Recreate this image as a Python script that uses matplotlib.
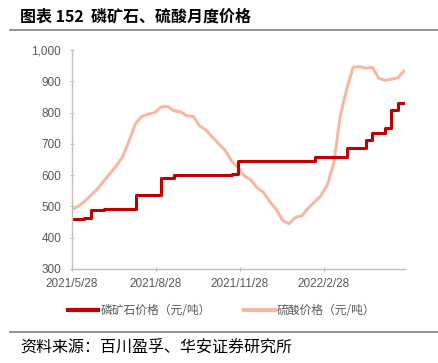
import numpy as np
import pandas as pd
import matplotlib
matplotlib.use("Agg")
import matplotlib.pyplot as plt
import matplotlib.dates as mdates

plt.rcParams['font.family'] = ['Noto Sans CJK SC', 'DejaVu Sans']

# ------------- DATA (weekly) -------------
dates = pd.date_range("2021-05-28", periods=53, freq="7D")

rock_price = [460, 460, 462, 490, 490, 493, 493, 493, 493, 493,
              537, 537, 537, 537, 592, 592, 600, 600, 600, 600,
              600, 600, 600, 600, 600, 603, 645, 645, 645, 645,
              645, 645, 645, 645, 645, 645, 645, 645, 657, 657,
              657, 657, 657, 688, 688, 688, 712, 734, 734, 750,
              808, 830, 830]

acid_price = [489, 500, 515, 535, 555, 580, 605, 630, 660, 710,
              765, 788, 795, 800, 818, 820, 806, 803, 790, 788,
              758, 745, 722, 700, 680, 645, 625, 598, 585, 560,
              545, 515, 490, 455, 445, 465, 470, 495, 515, 535,
              570, 640, 790, 875, 945, 947, 942, 945, 910, 903,
              907, 912, 933]

tick_dates = ["2021-05-28", "2021-08-28", "2021-11-28", "2022-02-28"]
tick_labels = ["2021/5/28", "2021/8/28", "2021/11/28", "2022/2/28"]
y_ticks = [300, 400, 500, 600, 700, 800, 900, 1000]

rock_color = "#C00000"
acid_color = "#F5B9A2"
grey_text = "#595959"

# ------------- PLOT -------------
fig = plt.figure(figsize=(4.39, 3.63), dpi=100)
ax = fig.add_axes([0.163, 0.259, 0.76, 0.603])

ax.plot(dates, acid_price, color=acid_color, lw=2.2, label="硫酸价格（元/吨）")
ax.plot(dates, rock_price, color=rock_color, lw=2.2, drawstyle="steps-post",
        label="磷矿石价格（元/吨）")

ax.set_xlim(pd.Timestamp("2021-05-28"), pd.Timestamp("2022-05-28"))
ax.set_ylim(300, 1000)
ax.set_yticks(y_ticks)
ax.set_yticklabels([f"{v:,}" for v in y_ticks])
ax.set_xticks([pd.Timestamp(d) for d in tick_dates])
ax.set_xticklabels(tick_labels)

for s in ["top", "right"]:
    ax.spines[s].set_visible(False)
for s in ["left", "bottom"]:
    ax.spines[s].set_color("#BFBFBF")
    ax.spines[s].set_linewidth(1.0)
ax.tick_params(axis="both", colors="#BFBFBF", labelcolor=grey_text,
               labelsize=8.5, length=3, direction="inout")
ax.tick_params(axis="y", pad=6)
ax.tick_params(axis="x", pad=5)
for lab in ax.get_xticklabels() + ax.get_yticklabels():
    lab.set_family(["Liberation Sans", "DejaVu Sans"])

# legend (red first)
h, l = ax.get_legend_handles_labels()
leg = fig.legend(h[::-1], l[::-1], loc="center", bbox_to_anchor=(0.505, 0.145),
                 ncol=2, frameon=False, fontsize=8.5, handlelength=2.6,
                 columnspacing=2.8, handletextpad=0.2)
for t in leg.get_texts():
    t.set_color(grey_text)
for line in leg.get_lines():
    line.set_linewidth(3)

# title, rules, source
fig.text(0.045, 0.955, "图表 152  磷矿石、硫酸月度价格", fontsize=11.5,
         fontweight="bold", va="center", ha="left")
fig.add_artist(plt.Line2D([0.023, 1.0], [0.917, 0.917], color="#7F7F7F", lw=1.2))
fig.add_artist(plt.Line2D([0.023, 1.0], [0.086, 0.086], color="#7F7F7F", lw=1.2))
fig.text(0.045, 0.043, "资料来源：百川盈孚、华安证券研究所", fontsize=11.5,
         va="center", ha="left")

plt.savefig("out.png", dpi=100)
